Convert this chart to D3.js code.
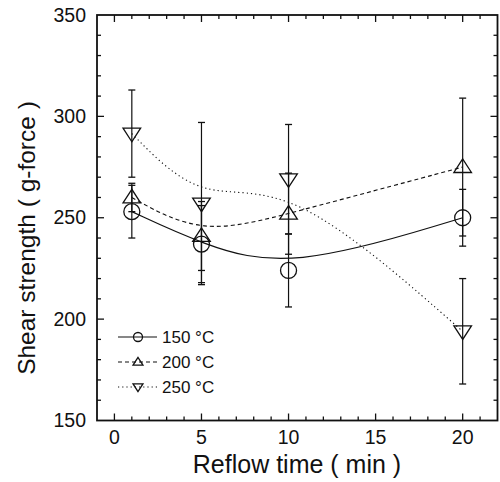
<!DOCTYPE html>
<html>
<head>
<meta charset="utf-8">
<script src="https://cdn.jsdelivr.net/npm/d3@7"></script>
<style>
  html, body { margin: 0; padding: 0; background: #fff; }
  svg { display: block; font-family: "Liberation Sans", Arial, sans-serif; }
</style>
</head>
<body>
<div id="chart"></div>
<script>
// reflow time (min)
const times = [1, 5, 10, 20];

// shear strength (g-force) per reflow temperature
const labels = ['150 °C', '200 °C', '250 °C'];
const vals150 = [253, 237, 224, 250];
const vals200 = [260, 241, 252, 275];
const vals250 = [291.5, 257, 269, 194];

// error bar half-lengths
const err150 = [13, 19, 18, 14];
const err200 = [7, 17, 20, 34];
const err250 = [21.5, 40, 27, 26];

const xTicks = [0, 5, 10, 15, 20];
const yTicks = [150, 200, 250, 300, 350];

const W = 500, H = 482;
const svg = d3.select('#chart').append('svg')
  .attr('width', W).attr('height', H);

const x = d3.scaleLinear().domain([-1, 22]).range([97, 497.5]);
const y = d3.scaleLinear().domain([150, 350]).range([420.5, 15]);

const series = [
  { name: labels[0], vals: vals150, err: err150, marker: 'circle', dash: null, width: 1.2 },
  { name: labels[1], vals: vals200, err: err200, marker: 'up', dash: '4,3', width: 1.1 },
  { name: labels[2], vals: vals250, err: err250, marker: 'down', dash: '1.2,3', width: 1.1 }
];

// ticks (all inward, on all four sides)
const axes = svg.append('g').attr('stroke', '#111');
const xMinor = d3.range(0, 22);
const yMinor = d3.range(160, 350, 10);
xMinor.forEach(v => {
  const len = xTicks.includes(v) ? 7 : 4;
  axes.append('line').attr('x1', x(v)).attr('x2', x(v))
    .attr('y1', y(150)).attr('y2', y(150) - len).attr('stroke-width', 1.3);
  axes.append('line').attr('x1', x(v)).attr('x2', x(v))
    .attr('y1', y(350)).attr('y2', y(350) + len).attr('stroke-width', 1.3);
});
yMinor.forEach(v => {
  const len = yTicks.includes(v) ? 7 : 4;
  axes.append('line').attr('y1', y(v)).attr('y2', y(v))
    .attr('x1', x(-1)).attr('x2', x(-1) + len).attr('stroke-width', 1.3);
  axes.append('line').attr('y1', y(v)).attr('y2', y(v))
    .attr('x1', x(22)).attr('x2', x(22) - len).attr('stroke-width', 1.3);
});

// frame
svg.append('rect')
  .attr('x', x(-1)).attr('y', y(350))
  .attr('width', x(22) - x(-1)).attr('height', y(150) - y(350))
  .attr('fill', 'none').attr('stroke', '#111').attr('stroke-width', 1.8);

// tick labels
svg.append('g').selectAll('text').data(xTicks).join('text')
  .attr('x', d => x(d)).attr('y', 444)
  .attr('text-anchor', 'middle').attr('font-size', 19.5).attr('fill', '#111')
  .text(d => d);

svg.append('g').selectAll('text').data(yTicks).join('text')
  .attr('x', 86).attr('y', d => y(d) + 6.5)
  .attr('text-anchor', 'end').attr('font-size', 19.5).attr('fill', '#111')
  .text(d => d);

// axis titles
svg.append('text')
  .attr('x', 297).attr('y', 473)
  .attr('text-anchor', 'middle').attr('font-size', 25).attr('fill', '#111')
  .text('Reflow time ( min )');

svg.append('text')
  .attr('transform', 'translate(35, 238) rotate(-90)')
  .attr('text-anchor', 'middle').attr('font-size', 24.5).attr('fill', '#111')
  .text('Shear strength ( g-force )');

// marker drawing
function drawMarker(g, type, cx, cy, s) {
  if (type === 'circle') {
    g.append('circle').attr('cx', cx).attr('cy', cy).attr('r', s)
      .attr('fill', 'none').attr('stroke', '#111').attr('stroke-width', 1.3);
  } else {
    const h = s * 1.7, hw = s * 1.1;
    const pts = type === 'up'
      ? [[cx, cy - h * 0.6], [cx - hw, cy + h * 0.4], [cx + hw, cy + h * 0.4]]
      : [[cx, cy + h * 0.6], [cx - hw, cy - h * 0.4], [cx + hw, cy - h * 0.4]];
    g.append('path').attr('d', 'M' + pts.map(p => p.join(',')).join('L') + 'Z')
      .attr('fill', 'none').attr('stroke', '#111').attr('stroke-width', 1.3)
      .attr('stroke-linejoin', 'miter');
  }
}

const plot = svg.append('g');

series.forEach(s => {
  const pts = times.map((t, i) => [t, s.vals[i]]);
  const line = d3.line().x(d => x(d[0])).y(d => y(d[1])).curve(d3.curveBasis);
  plot.append('path').attr('d', line(pts))
    .attr('fill', 'none').attr('stroke', '#111')
    .attr('stroke-width', s.width)
    .attr('stroke-dasharray', s.dash);

  // error bars
  times.forEach((t, i) => {
    const top = y(s.vals[i] + s.err[i]), bot = y(s.vals[i] - s.err[i]);
    const cx = x(t);
    plot.append('line').attr('x1', cx).attr('x2', cx).attr('y1', top).attr('y2', bot)
      .attr('stroke', '#111').attr('stroke-width', 1.2);
    [top, bot].forEach(yy => plot.append('line')
      .attr('x1', cx - 3.5).attr('x2', cx + 3.5).attr('y1', yy).attr('y2', yy)
      .attr('stroke', '#111').attr('stroke-width', 1.3));
  });

  times.forEach((t, i) => drawMarker(plot, s.marker, x(t), y(s.vals[i]), 8));
});

// legend
const legend = svg.append('g');
series.forEach((s, i) => {
  const ly = 337 + i * 25;
  legend.append('line').attr('x1', 118).attr('x2', 157).attr('y1', ly).attr('y2', ly)
    .attr('stroke', '#111').attr('stroke-width', s.width)
    .attr('stroke-dasharray', s.dash);
  drawMarker(legend, s.marker, 138, ly, 4.5);
  legend.append('text').attr('x', 162).attr('y', ly + 6)
    .attr('font-size', 17).attr('fill', '#111').text(s.name);
});
</script>
</body>
</html>
